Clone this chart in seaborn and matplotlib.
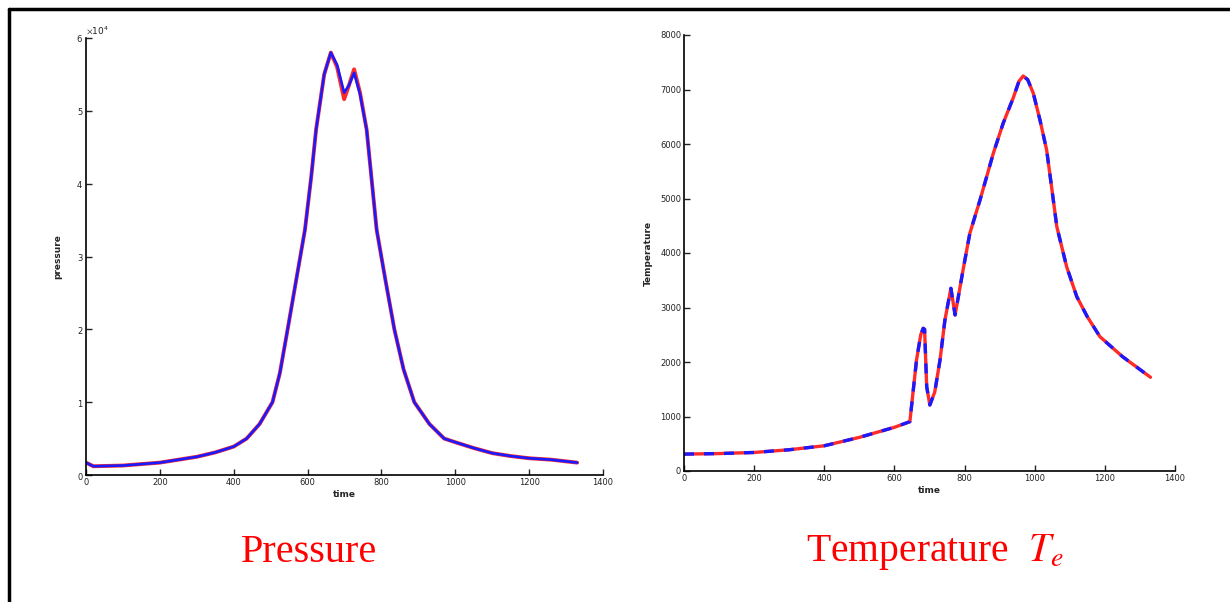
import numpy as np
import pandas as pd
import matplotlib
matplotlib.use("Agg")
import matplotlib.pyplot as plt
import seaborn as sns
from matplotlib.lines import Line2D

# ---------------- data ----------------
p_time = [0, 20, 100, 200, 300, 350, 400, 435, 470, 505, 525, 546, 570, 593, 610, 623,
          645, 663, 680, 699, 712, 726, 742, 760, 787, 810, 835, 860, 889, 930,
          970, 1000, 1050, 1100, 1150, 1200, 1260, 1330]
p_red = [1700, 1200, 1300, 1700, 2500, 3100, 3900, 5000, 7000, 10000, 14000, 20000,
         27000, 33700, 41000, 47400, 55000, 58000, 56000, 51600, 53500, 55700, 52500,
         47400, 33700, 27000, 20000, 14500, 10000, 7000, 5000, 4500, 3700, 3000,
         2600, 2300, 2100, 1700]
p_blue = [1700, 1200, 1300, 1700, 2500, 3100, 3900, 5000, 7000, 10000, 14000, 20000,
          27000, 33700, 41000, 47400, 55000, 58000, 56300, 52500, 53500, 55200, 52300,
          47400, 33700, 27000, 20000, 14500, 10000, 7000, 5000, 4500, 3700, 3000,
          2600, 2300, 2100, 1700]

t_time = [0, 100, 200, 300, 400, 500, 600, 644, 663, 675, 682, 686, 692, 701, 715,
          730, 744, 761, 773, 796, 815, 844, 882, 910, 939, 955, 967, 980, 996, 1015,
          1034, 1048, 1063, 1091, 1120, 1150, 1186, 1250, 1330]
t_red = [310, 320, 340, 390, 463, 617, 802, 905, 2037, 2500, 2618, 2600, 1547, 1211,
         1450, 2037, 2771, 3352, 2862, 3700, 4361, 4972, 5830, 6380, 6850, 7150, 7248,
         7180, 6930, 6440, 5890, 5217, 4483, 3749, 3198, 2830, 2464, 2100, 1720]
t_blue = [310, 320, 340, 390, 463, 617, 802, 905, 2037, 2500, 2618, 2600, 1547, 1211,
          1450, 2037, 2771, 3352, 2862, 3700, 4361, 4972, 5830, 6380, 6850, 7150, 7248,
          7180, 6930, 6440, 5890, 5217, 4483, 3749, 3198, 2830, 2464, 2100, 1720]

x_ticks = [0, 200, 400, 600, 800, 1000, 1200, 1400]
p_ticks = [0, 10000, 20000, 30000, 40000, 50000, 60000]
t_ticks = [0, 1000, 2000, 3000, 4000, 5000, 6000, 7000, 8000]

# ---------------- style ----------------
sns.set_theme(style="ticks")
plt.rcParams["font.family"] = ["DejaVu Sans"]
plt.rcParams["mathtext.fontset"] = "stix"

W, H = 1230, 602
fig = plt.figure(figsize=(W / 100, H / 100), dpi=100)
fig.patch.set_facecolor("white")

axL = fig.add_axes([86 / W, 1 - 475 / H, 517 / W, 437 / H])
axR = fig.add_axes([684 / W, 1 - 471 / H, 491 / W, 436 / H])

dfp = pd.DataFrame({"time": p_time, "red": p_red, "blue": p_blue})
dft = pd.DataFrame({"time": t_time, "red": t_red, "blue": t_blue})

sns.lineplot(data=dfp, x="time", y="red", ax=axL, color="#ff2a2a", lw=2.8)
sns.lineplot(data=dfp, x="time", y="blue", ax=axL, color="#1a1aff", lw=1.9)

sns.lineplot(data=dft, x="time", y="red", ax=axR, color="#ff2a2a", lw=2.4)
sns.lineplot(data=dft, x="time", y="blue", ax=axR, color="#1a1aff", lw=2.4,
             linestyle=(0, (3, 3)))

for ax in (axL, axR):
    ax.set_xlim(0, 1400)
    ax.set_xticks(x_ticks)
    ax.set_xticklabels([str(v) for v in x_ticks])
    sns.despine(ax=ax)
    for s in ("left", "bottom"):
        ax.spines[s].set_linewidth(1.2)
        ax.spines[s].set_color("black")
    ax.tick_params(direction="in", length=4, width=1.0, labelsize=6, pad=2,
                   colors="#222222")
    ax.set_xlabel("time", fontsize=6.5, labelpad=2, fontweight="bold")

axL.set_ylim(0, 60000)
axL.set_yticks(p_ticks)
axL.ticklabel_format(axis="y", style="sci", scilimits=(0, 0), useMathText=True)
axL.yaxis.get_offset_text().set_fontsize(6.5)
axL.set_ylabel("pressure", fontsize=6.5, labelpad=10, fontweight="bold")

axR.set_ylim(0, 8000)
axR.set_yticks(t_ticks)
axR.set_ylabel("Temperature", fontsize=6.5, labelpad=5, fontweight="bold")

fig.text(309 / W, 1 - 552 / H, "Pressure", color="red", fontsize=29,
         family="Liberation Serif", ha="center", va="center")
fig.text(935 / W, 1 - 552 / H, r"Temperature  $T_e$", color="red", fontsize=28.5,
         family="Liberation Serif", ha="center", va="center")

# slide frame
fig.add_artist(Line2D([9 / W, 9 / W], [0, 1 - 9 / H], color="black", lw=2.5,
                      transform=fig.transFigure))
fig.add_artist(Line2D([9 / W, 1], [1 - 9 / H, 1 - 9 / H], color="black", lw=2.5,
                      transform=fig.transFigure))

fig.savefig("out.png", dpi=100)
